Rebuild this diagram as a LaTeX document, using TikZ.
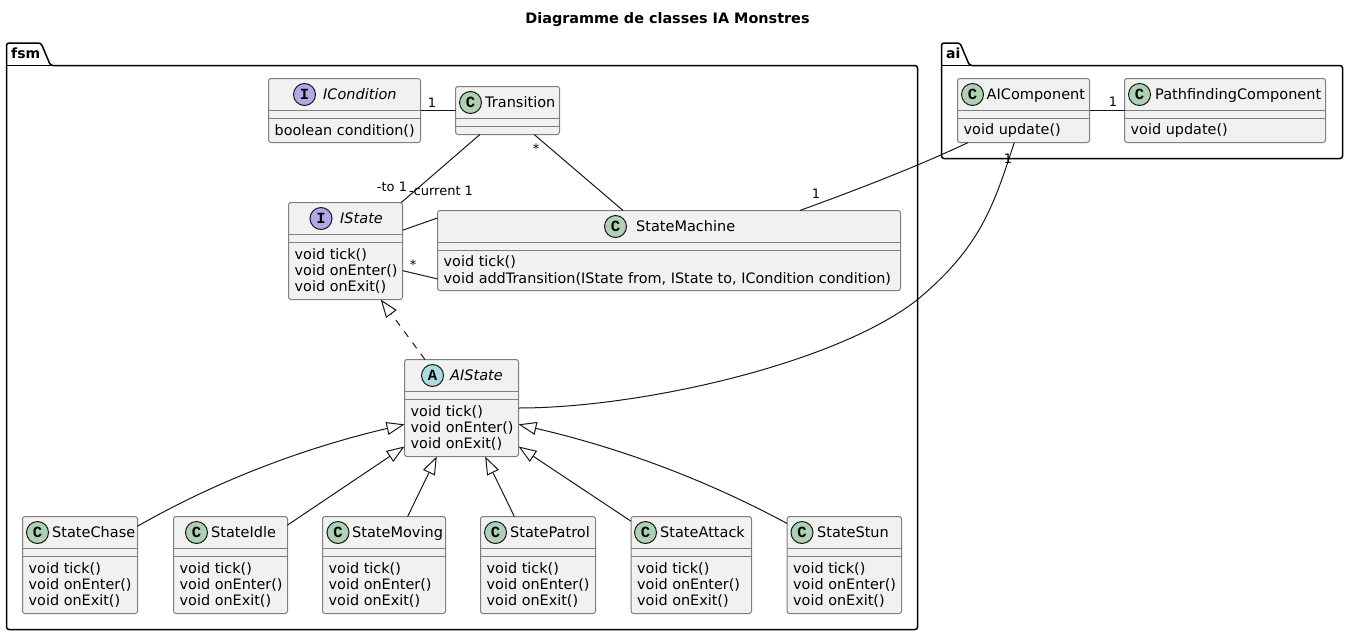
\documentclass[tikz,border=0pt]{standalone}
\usepackage{fontspec}
\setmainfont{DejaVu Sans}
\newfontfamily\badgefont{Liberation Mono}
\usetikzlibrary{arrows.meta}
\definecolor{classfill}{HTML}{F1F1F1}
\definecolor{classline}{HTML}{7F7F7F}
\definecolor{ink}{HTML}{181818}
\definecolor{spotC}{HTML}{ADD1B2}
\definecolor{spotI}{HTML}{B4A7E5}
\definecolor{spotA}{HTML}{A9DCDF}
\tikzset{
 classbox/.style={draw=classline,fill=classfill,line width=1pt,rounded corners=2.5pt,inner sep=0pt,outer sep=0pt},
 badge/.style={circle,draw=ink,line width=1pt,minimum size=22pt,inner sep=0pt,font=\badgefont\bfseries\fontsize{15.5}{15.5}\selectfont},
 head/.style={anchor=base west,inner sep=0pt,font=\fontsize{14.5}{16}\selectfont},
 body/.style={anchor=west,align=left,inner sep=0pt,font=\fontsize{14.4}{16.3}\selectfont},
 mult/.style={inner sep=0pt,font=\fontsize{13}{15}\selectfont,text=black},
 pack/.style={draw=black,line width=1.5pt,rounded corners=2.5pt,fill=white},
 packname/.style={anchor=base west,inner sep=0pt,font=\bfseries\fontsize{14}{16}\selectfont},
 assoc/.style={draw=ink,line width=1pt},
 extends/.style={draw=ink,line width=1pt,-{Triangle[length=18pt,width=13pt,fill=white]}}
}
% name, left, right, top, bottom
\newcommand{\classshape}[5]{
 \node[classbox,minimum width={(#3-#2)*1pt},minimum height={(#5-#4)*1pt}] (#1) at ({(#2+#3)/2},{(#4+#5)/2}) {};
 \draw[classline,line width=1pt] (#2,#4+32) -- (#3,#4+32);
 \draw[classline,line width=1pt] (#2,#4+40) -- (#3,#4+40);
}
% name, top, badge x, letter, text x, title
\newcommand{\classhead}[6]{
 \node[badge,fill=spot#4] (#1Badge) at (#3,#2+16) {#4};
 \node[head] (#1Title) at (#5,#2+21) {#6};
}
\begin{document}
\begin{tikzpicture}[x=1pt,y=-1pt]
\useasboundingbox (0,0) rectangle (1348,635);
\node[inner sep=0pt,font=\bfseries\fontsize{14.4}{16}\selectfont] (title) at (667.5,19.5) {Diagramme de classes IA Monstres};
% Packages
\draw[pack] (6.5,65.5) -- (6.5,43) -- (41,43) -- (50.5,65.5) -- (917.5,65.5) -- (917.5,629.5) -- (6.5,629.5) -- cycle;
\draw[line width=1.5pt] (6.5,65.5) -- (50.5,65.5);
\node[packname] (fsmName) at (11,58) {fsm};
\draw[pack] (941.5,65.5) -- (941.5,43) -- (960,43) -- (969.5,65.5) -- (1342.5,65.5) -- (1342.5,158.5) -- (941.5,158.5) -- cycle;
\draw[line width=1.5pt] (941.5,65.5) -- (969.5,65.5);
\node[packname] (aiName) at (946,58) {ai};
% Top classes
\classshape{ICondition}{268.5}{420.5}{78.5}{142.5}
\classhead{ICondition}{78.5}{304.5}{I}{323}{\itshape ICondition}
\node[body] (IConditionBody) at (274.5,130.5) {boolean condition()};
\classshape{Transition}{455.5}{559.5}{86.5}{134.5}
\classhead{Transition}{86.5}{470.5}{C}{485}{Transition}
\classshape{IState}{288.5}{402.5}{202.5}{299.5}
\classhead{IState}{202.5}{321}{I}{340}{\itshape IState}
\node[body] (IStateBody) at (294.5,271) {void tick()\\void onEnter()\\void onExit()};
\classshape{StateMachine}{437.5}{900.5}{210.5}{290.5}
\classhead{StateMachine}{210.5}{615.5}{C}{636}{StateMachine}
\node[body] (StateMachineBody) at (443.5,270.5) {void tick()\\void addTransition(IState from, IState to, ICondition condition)};
\classshape{AIState}{404.5}{518.5}{359.5}{456.5}
\classhead{AIState}{359.5}{432.5}{A}{450}{\itshape AIState}
\node[body] (AIStateBody) at (410.5,428) {void tick()\\void onEnter()\\void onExit()};
\classshape{AIComponent}{957.5}{1089.5}{78.5}{142.5}
\classhead{AIComponent}{78.5}{972.5}{C}{986.5}{AIComponent}
\node[body] (AIComponentBody) at (963.5,130.5) {void update()};
\classshape{PathfindingComponent}{1124.5}{1325.5}{78.5}{142.5}
\classhead{PathfindingComponent}{78.5}{1139.5}{C}{1155}{PathfindingComponent}
\node[body] (PathfindingComponentBody) at (1130.5,130.5) {void update()};
% Concrete states, same height and methods
\foreach \name/\xa/\xb/\cx/\tx/\from/\to in {
 StateIdle/173.5/287.5/196.5/211/35/214.7,
 StateMoving/322.5/445.5/338/352/64/243.9,
 StatePatrol/480.5/595.5/495.5/510/116/-64.8,
 StateAttack/631/751.5/645.5/660/144.5/-34.7}
{
 \classshape{\name}{\xa}{\xb}{516.5}{613.5}
 \classhead{\name}{516.5}{\cx}{C}{\tx}{\name}
 \node[body] (\name Body) at (\xa+6,585) {void tick()\\void onEnter()\\void onExit()};
 \draw[extends] (\name.\from) -- (AIState.\to);
}
\foreach \name/\xa/\xb/\cx/\tx in {
 StateChase/22.5/137.5/37.5/52,
 StateStun/787/901.5/802/817}
{
 \classshape{\name}{\xa}{\xb}{516.5}{613.5}
 \classhead{\name}{516.5}{\cx}{C}{\tx}{\name}
 \node[body] (\name Body) at (\xa+6,585) {void tick()\\void onEnter()\\void onExit()};
}
% Associations
\draw[assoc] (ICondition.east) -- (Transition.west);
\draw[assoc] (Transition.221.1) -- (IState.41.4);
\draw[assoc] (Transition.-42.2) -- (StateMachine.139);
\draw[assoc] (IState.20.7) -- (StateMachine.172.86);
\draw[assoc] (IState.-19.3) -- (StateMachine.187.38);
\draw[assoc] (AIComponent.210) .. controls (925,163) and (870,185) .. (StateMachine.17.35);
\draw[assoc] (AIComponent.east) -- (PathfindingComponent.west);
\draw[assoc] (AIComponent.254.3) .. controls (993.5,205.5) and (981,246.8) .. (917,300) .. controls (835,364) and (640,408) .. (AIState.east);
% Inheritance
\draw[extends,dash pattern=on 7pt off 7pt] (AIState.127) -- (IState.-54.6);
\draw[extends] (StateChase.34.8) .. controls (215,482) and (300,449) .. (AIState.196);
\draw[extends] (StateStun.144.4) .. controls (710,482) and (625,449) .. (AIState.-16);
% Multiplicities
\node[mult] (multA) at (432,103) {1};
\node[mult] (multB) at (536,149) {*};
\node[mult] (multC) at (392,187) {-to 1};
\node[mult] (multD) at (441,191) {-current 1};
\node[mult] (multE) at (413,265) {*};
\node[mult] (multF) at (816,194) {1};
\node[mult] (multG) at (1008,159) {1};
\node[mult] (multH) at (1113,102) {1};
\end{tikzpicture}
\end{document}
